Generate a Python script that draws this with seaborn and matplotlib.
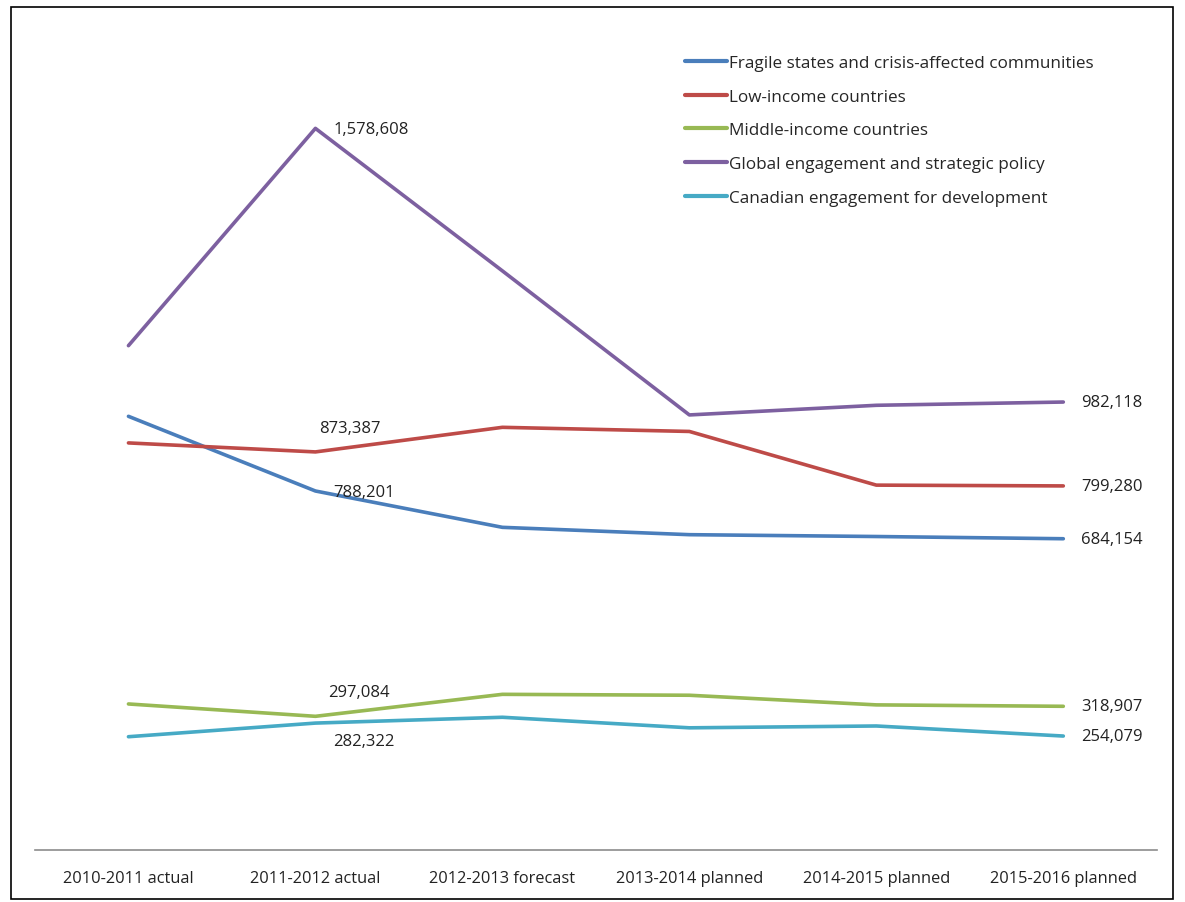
import pandas as pd
import matplotlib.pyplot as plt
import seaborn as sns
from matplotlib.patches import Rectangle

years = [
    "2010-2011 actual",
    "2011-2012 actual",
    "2012-2013 forecast",
    "2013-2014 planned",
    "2014-2015 planned",
    "2015-2016 planned",
]

fragile = [951000, 788201, 709000, 693000, 689000, 684154]
low_income = [893000, 873387, 927000, 918000, 801000, 799280]
middle_income = [324000, 297084, 345000, 343000, 322000, 318907]
global_policy = [1105000, 1578608, 1268000, 954000, 975000, 982118]
canadian = [252600, 282322, 295000, 272000, 276000, 254079]

series_names = [
    "Fragile states and crisis-affected communities",
    "Low-income countries",
    "Middle-income countries",
    "Global engagement and strategic policy",
    "Canadian engagement for development",
]
series_values = [fragile, low_income, middle_income, global_policy, canadian]
colors = ["#4A7EBB", "#BE4B48", "#98B954", "#7D60A0", "#46AAC5"]

df = pd.DataFrame(
    [(n, y, v) for n, vals in zip(series_names, series_values) for y, v in zip(years, vals)],
    columns=["series", "year", "value"],
)

sns.set_style("white")
plt.rcParams["font.family"] = ["Open Sans", "DejaVu Sans"]

fig = plt.figure(figsize=(11.85, 9.03), dpi=100)
ax = fig.add_axes([0.0295, 0.0547, 0.9467, 0.9145])

sns.lineplot(
    data=df, x="year", y="value", hue="series", hue_order=series_names,
    palette=colors, linewidth=2.6, sort=False, ax=ax,
)

ax.set_xlim(-0.5, 5.5)
ax.set_ylim(0, 1800000)
ax.set_xlabel("")
ax.set_ylabel("")
ax.set_yticks([])
for s in ["top", "right", "left"]:
    ax.spines[s].set_visible(False)
ax.spines["bottom"].set_color("#8c8c8c")
ax.spines["bottom"].set_linewidth(1.2)
ax.spines["bottom"].set_position(("data", 5500))
ax.tick_params(axis="x", length=0, pad=14, labelsize=11.8, colors="#222222")

# data labels
def label(i, v, dx, dy):
    ax.annotate(f"{v:,}", (i, v), xytext=(dx, dy), textcoords="offset pixels",
                ha="left", va="center", fontsize=12, color="#222222")

label(1, global_policy[1], 18, -1)
label(1, low_income[1], 4, 24)
label(1, fragile[1], 18, -1)
label(1, middle_income[1], 13, 24)
label(1, canadian[1], 18, -18)
for vals in [global_policy, low_income, fragile, middle_income, canadian]:
    label(5, vals[5], 18, 0)

leg = ax.legend(
    loc="upper left", bbox_to_anchor=(0.566, 0.985), frameon=False,
    fontsize=12.3, handlelength=2.45, handletextpad=0.1, labelspacing=1.05,
)
for line in leg.get_lines():
    line.set_linewidth(3)

fig.patches.append(Rectangle((0.009, 0.003), 0.981, 0.988, transform=fig.transFigure,
                             fill=False, edgecolor="black", linewidth=1.2))

fig.savefig("out.png", dpi=100)
